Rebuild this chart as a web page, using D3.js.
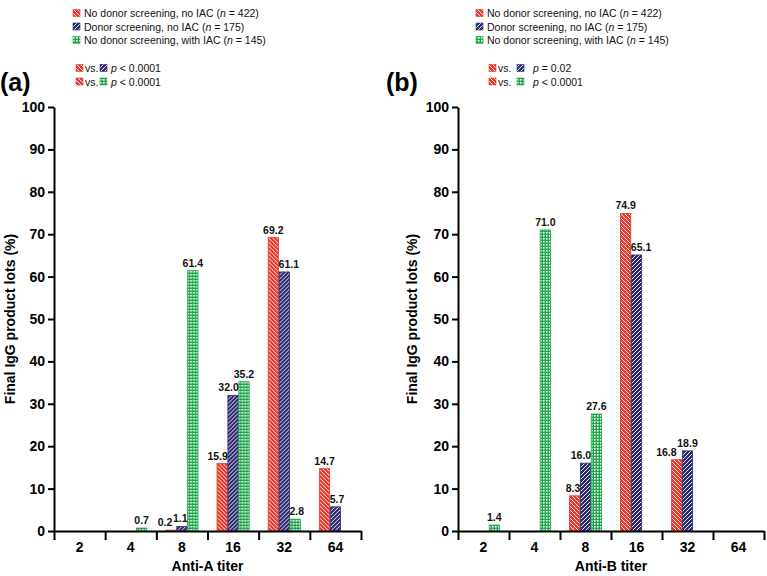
<!DOCTYPE html>
<html><head><meta charset="utf-8">
<script src="https://cdn.jsdelivr.net/npm/d3@7"></script>
<style>
body{margin:0;background:#fff}
text{font-family:Arial,"Liberation Sans",Helvetica,sans-serif}
</style>
</head><body>
<svg id="c" width="767" height="576"></svg>
<script>
// ---- data ----
const titers = ["2","4","8","16","32","64"];
const seriesKeys = ["noScreen","screen","iac"];
const antiA_noScreen = [0, 0, 0.2, 15.9, 69.2, 14.7];
const antiA_screen   = [0, 0, 1.1, 32.0, 61.1, 5.7];
const antiA_iac      = [0, 0.7, 61.4, 35.2, 2.8, 0];
const antiB_noScreen = [0, 0, 8.3, 74.9, 16.8, 0];
const antiB_screen   = [0, 0, 16.0, 65.1, 18.9, 0];
const antiB_iac      = [1.4, 71.0, 27.6, 0, 0, 0];
const yTicks = [0,10,20,30,40,50,60,70,80,90,100];
const legendNames = ["No donor screening, no IAC","Donor screening, no IAC","No donor screening, with IAC"];
const legendN = [422, 175, 145];
const pCompare = ["screen","iac"];
const pA = ["< 0.0001","< 0.0001"];
const pB = ["= 0.02","< 0.0001"];
const panelLabels = ["(a)","(b)"];
const xTitles = ["Anti-A titer","Anti-B titer"];
const yTitle = "Final IgG product lots (%)";

const colors = {noScreen:"#e63a2d", screen:"#2d2b6f", iac:"#1fa54a"};

const svg = d3.select("#c");
const defs = svg.append("defs");
// red: "\" stripes
let p = defs.append("pattern").attr("id","pat-noScreen").attr("patternUnits","userSpaceOnUse").attr("width",4).attr("height",4);
p.append("rect").attr("width",4).attr("height",4).attr("fill",colors.noScreen);
p.append("path").attr("d","M0,0L4,4M-1,3L1,5M3,-1L5,1").attr("stroke","#fff").attr("stroke-width",0.9);
// blue: "/" stripes
p = defs.append("pattern").attr("id","pat-screen").attr("patternUnits","userSpaceOnUse").attr("width",4).attr("height",4);
p.append("rect").attr("width",4).attr("height",4).attr("fill",colors.screen);
p.append("path").attr("d","M0,4L4,0M-1,1L1,-1M3,5L5,3").attr("stroke","#fff").attr("stroke-width",0.9);
// green: grid with white holes
p = defs.append("pattern").attr("id","pat-iac").attr("patternUnits","userSpaceOnUse").attr("width",3).attr("height",3);
p.append("rect").attr("width",3).attr("height",3).attr("fill",colors.iac);
p.append("rect").attr("x",1).attr("y",1).attr("width",1.6).attr("height",1.6).attr("fill","#fff");

const panels = [
  {left:54, right:361, data:{noScreen:antiA_noScreen, screen:antiA_screen, iac:antiA_iac}, p:pA,
   legX:73, pX:[76,85,100,111], labelX:0, yTitleX:15},
  {left:458, right:764, data:{noScreen:antiB_noScreen, screen:antiB_screen, iac:antiB_iac}, p:pB,
   legX:476, pX:[489,498,517,533], labelX:386, yTitleX:417}
];

const y = d3.scaleLinear().domain([0,100]).range([531,107]);
const FS_LEG = "10.5px";

panels.forEach((P, pi) => {
  const g = svg.append("g");
  const x = d3.scaleBand().domain(titers).range([P.left, P.right]);
  const xs = d3.scaleBand().domain(seriesKeys).range([9.5, x.bandwidth()-9.5]).paddingInner(0.05);

  const groups = g.selectAll("g.grp").data(titers).join("g").attr("class","grp")
    .attr("transform", d => `translate(${x(d)},0)`);
  groups.each(function(cat, ci){
    const gg = d3.select(this);
    const all = seriesKeys.map(k => ({k, v:P.data[k][ci]}));
    const vals = all.map((d, i) => {
      const left = i > 0 ? all[i-1].v : 0;
      const right = i < all.length-1 ? all[i+1].v : 0;
      return {...d, anchor: right > d.v ? "end" : (left > d.v ? "start" : "middle")};
    }).filter(d => d.v > 0);
    gg.selectAll("rect").data(vals).join("rect")
      .attr("x", d => xs(d.k)).attr("width", xs.bandwidth())
      .attr("y", d => y(d.v)).attr("height", d => y(0) - y(d.v))
      .attr("fill", d => `url(#pat-${d.k})`)
      .attr("stroke", d => colors[d.k]).attr("stroke-width", 0.8);
    const labs = gg.selectAll("text.val").data(vals).join("text").attr("class","val")
      .attr("x", d => d.anchor === "end" ? xs(d.k) + xs.bandwidth() + 0.5
                    : d.anchor === "start" ? xs(d.k) - 0.5 : xs(d.k) + xs.bandwidth()/2)
      .attr("y", d => y(d.v) - 4)
      .attr("text-anchor", d => d.anchor).attr("font-size","10.5px").attr("font-weight","bold")
      .attr("fill","#111").text(d => d.v.toFixed(1));
    const nodes = labs.nodes();
    for (let i = nodes.length - 2; i >= 0; i--) {
      const a = nodes[i], b = nodes[i+1];
      const ba = a.getBBox(), bb = b.getBBox();
      const overlap = (ba.x + ba.width) - bb.x;
      if (overlap > 0 && Math.abs(ba.y - bb.y) < ba.height) {
        a.setAttribute("x", +a.getAttribute("x") - overlap - 0.5);
      }
    }
  });

  // y axis
  const ya = g.append("g").attr("transform",`translate(${P.left},0)`)
    .call(d3.axisLeft(y).tickValues(yTicks).tickSize(6).tickSizeOuter(0).tickPadding(3));
  ya.selectAll("path,line").attr("stroke","#000").attr("stroke-width",2);
  ya.selectAll("text").attr("font-size","14px").attr("font-weight","bold").attr("fill","#000")
    .attr("font-family","Arial, 'Liberation Sans', sans-serif");

  // x axis: boundary ticks
  const xb = d3.scaleLinear().domain([0, titers.length]).range([P.left, P.right]);
  const xa = g.append("g").attr("transform",`translate(0,${y(0)})`)
    .call(d3.axisBottom(xb).tickValues(d3.range(titers.length+1)).tickSize(9).tickSizeOuter(0).tickFormat(""));
  xa.selectAll("path,line").attr("stroke","#000").attr("stroke-width",2);
  const xl = g.append("g").attr("transform",`translate(0,${y(0)})`)
    .call(d3.axisBottom(x).tickSize(0).tickPadding(11));
  xl.select(".domain").remove();
  xl.selectAll("text").attr("font-size","14px").attr("font-weight","bold").attr("fill","#000")
    .attr("font-family","Arial, 'Liberation Sans', sans-serif");

  // titles
  g.append("text").attr("x",(P.left+P.right)/2).attr("y",571).attr("text-anchor","middle")
    .attr("font-size","14px").attr("font-weight","bold").text(xTitles[pi]);
  g.append("text").attr("transform",`translate(${P.yTitleX},319) rotate(-90)`).attr("text-anchor","middle")
    .attr("font-size","14px").attr("font-weight","bold").text(yTitle);
  g.append("text").attr("x",P.labelX).attr("y",91).attr("font-size","25px").attr("font-weight","bold")
    .text(panelLabels[pi]);

  // legend
  const lg = g.append("g");
  seriesKeys.forEach((k, i) => {
    const cy = 13 + i*13.5;
    lg.append("rect").attr("x",P.legX).attr("y",cy-3.5).attr("width",7).attr("height",7)
      .attr("fill",`url(#pat-${k})`).attr("stroke",colors[k]).attr("stroke-width",0.6);
    const t = lg.append("text").attr("x",P.legX+11).attr("y",cy+4).attr("font-size",FS_LEG).attr("fill","#111");
    t.append("tspan").text(legendNames[i] + " (");
    t.append("tspan").attr("font-style","italic").text("n");
    t.append("tspan").text(" = " + legendN[i] + ")");
  });
  pCompare.forEach((k, i) => {
    const cy = 68 + i*13.5;
    lg.append("rect").attr("x",P.pX[0]).attr("y",cy-3.5).attr("width",7).attr("height",7)
      .attr("fill","url(#pat-noScreen)").attr("stroke",colors.noScreen).attr("stroke-width",0.6);
    lg.append("text").attr("x",P.pX[1]).attr("y",cy+4).attr("font-size",FS_LEG).attr("fill","#111").text("vs.");
    lg.append("rect").attr("x",P.pX[2]).attr("y",cy-3.5).attr("width",7).attr("height",7)
      .attr("fill",`url(#pat-${k})`).attr("stroke",colors[k]).attr("stroke-width",0.6);
    const t = lg.append("text").attr("x",P.pX[3]).attr("y",cy+4).attr("font-size",FS_LEG).attr("fill","#111");
    t.append("tspan").attr("font-style","italic").text("p");
    t.append("tspan").text(" " + P.p[i]);
  });
});
</script>
</body></html>
